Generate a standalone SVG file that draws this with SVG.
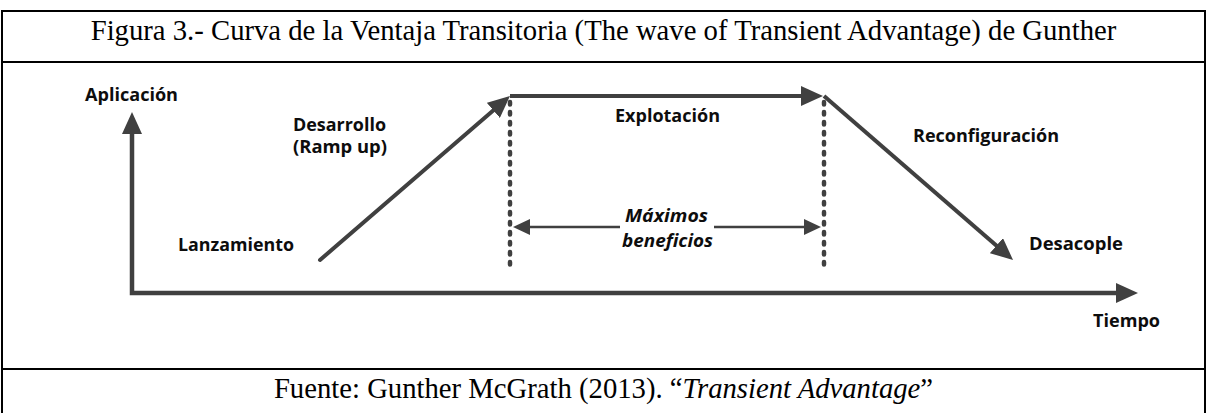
<svg xmlns="http://www.w3.org/2000/svg" width="1206" height="413" viewBox="0 0 1206 413">
<defs>
<style>
.frame{stroke:#000;stroke-width:2;fill:none}
.serif{font-family:"Liberation Serif","Times New Roman",serif;fill:#000;font-size:28.7px;text-anchor:middle}
.lbl{font-family:"Open Sans","Liberation Sans",sans-serif;font-weight:700;font-size:18px;fill:#0d0d0d}
.it{font-style:italic}
.ax{stroke:#404040;stroke-width:4.5;fill:none;stroke-linejoin:miter}
.ln{stroke:#404040;stroke-width:4;fill:none}
.dash{stroke:#404040;stroke-width:4.5;stroke-dasharray:2.5 7.5;stroke-linecap:round;fill:none}
.thin{stroke:#404040;stroke-width:2.5;fill:none}
</style>
<marker id="big" viewBox="0 0 22 20" markerUnits="userSpaceOnUse" markerWidth="22" markerHeight="20" refX="14" refY="10" orient="auto-start-reverse"><path d="M0,0 L22,10 L0,20 Z" fill="#404040"/></marker>
<marker id="small" viewBox="0 0 17 16" markerUnits="userSpaceOnUse" markerWidth="17" markerHeight="16" refX="11" refY="8" orient="auto"><path d="M0,0 L17,8 L0,16 Z" fill="#404040"/></marker>
</defs>
<rect width="1206" height="413" fill="#fff"/>
<g id="frame">
<path class="frame" d="M2,420 L2,11 L1205,11 L1205,420 M2,62 L1205,62 M2,369 L1205,369"/>
<text id="title" class="serif" x="603.5" y="40">Figura 3.- Curva de la Ventaja Transitoria (The wave of Transient Advantage) de Gunther</text>
<text id="source" class="serif" x="603.5" y="398">Fuente: Gunther McGrath (2013). “<tspan class="it">Transient Advantage</tspan>”</text>
</g>
<g id="connectors">
<path id="axes" class="ax" d="M132,120 L132,293 L1130,293" marker-start="url(#big)" marker-end="url(#big)"/>
<path id="ramp" class="ln" d="M320,260 L503.9,101.2" stroke-linecap="round" marker-end="url(#big)"/>
<path id="plateau" class="ln" d="M510,96 L815,96" marker-end="url(#big)"/>
<path id="decline" class="ln" d="M824,96 L1007,254.8" marker-end="url(#big)"/>
<path id="dash-left" class="dash" d="M510,102 L510,271"/>
<path id="dash-right" class="dash" d="M824,102 L824,271"/>
<path id="span-left" class="thin" d="M620,227 L519,227" marker-end="url(#small)"/>
<path id="span-right" class="thin" d="M714,227 L815,227" marker-end="url(#small)"/>
</g>
<g id="node-aplicacion"><text class="lbl" x="85" y="101" textLength="93" lengthAdjust="spacingAndGlyphs">Aplicación</text></g>
<g id="node-desarrollo"><text class="lbl" x="293" y="131" textLength="93" lengthAdjust="spacingAndGlyphs">Desarrollo</text><text class="lbl" x="293" y="153" textLength="94" lengthAdjust="spacingAndGlyphs">(Ramp up)</text></g>
<g id="node-lanzamiento"><text class="lbl" x="178" y="251" textLength="116" lengthAdjust="spacingAndGlyphs">Lanzamiento</text></g>
<g id="node-explotacion"><text class="lbl" x="615" y="122" textLength="105" lengthAdjust="spacingAndGlyphs">Explotación</text></g>
<g id="node-reconfiguracion"><text class="lbl" x="913" y="142" textLength="146" lengthAdjust="spacingAndGlyphs">Reconfiguración</text></g>
<g id="node-desacople"><text class="lbl" x="1029" y="250" textLength="94" lengthAdjust="spacingAndGlyphs">Desacople</text></g>
<g id="node-tiempo"><text class="lbl" x="1093" y="327" textLength="67" lengthAdjust="spacingAndGlyphs">Tiempo</text></g>
<g id="node-maximos"><text class="lbl it" x="625" y="222" textLength="83" lengthAdjust="spacingAndGlyphs">Máximos</text><text class="lbl it" x="622" y="247" textLength="91" lengthAdjust="spacingAndGlyphs">beneficios</text></g>
</svg>
